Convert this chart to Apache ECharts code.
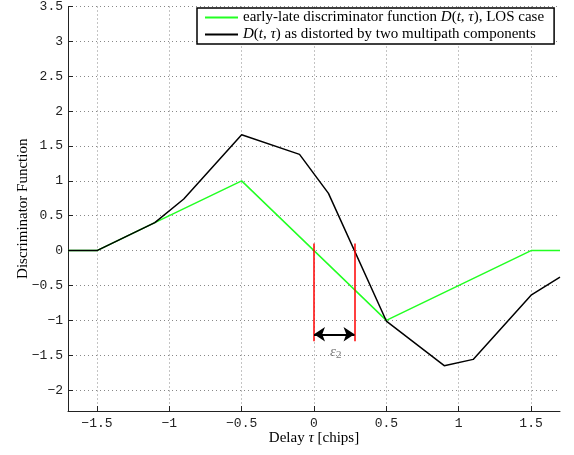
<!DOCTYPE html>
<html>
<head>
<meta charset="utf-8">
<script src="https://cdn.jsdelivr.net/npm/echarts@6/dist/echarts.min.js"></script>
<style>
  html, body { margin: 0; padding: 0; background: #fff; }
  #chart { width: 574px; height: 455px; }
</style>
</head>
<body>
<div id="chart"></div>
<script>
// Early-late discriminator: ideal LOS curve vs. the curve distorted by two multipath components
const losTau = [-1.7, -1.5, -1.1, -0.5, 0.5, 1.5, 1.7];
const losD   = [0, 0, 0.4, 1, -1, 0, 0];

const mpTau = [-1.7, -1.5, -1.1, -0.9, -0.5, -0.1, 0.1, 0.5, 0.9, 1.1, 1.5, 1.7];
const mpD   = [0, 0, 0.4, 0.74, 1.66, 1.38, 0.82, -1.01, -1.65, -1.56, -0.64, -0.38];

// zero crossings of the two curves and the bias between them
const crossTau = [0, 0.28];
const crossTop = 0.1;
const crossBottom = -1.3;
const arrowD = -1.2;
const epsPos = [0.15, -1.45];

const xMin = -1.7, xMax = 1.7, yMin = -2.3, yMax = 3.5, step = 0.5;

const nameLos = 'early-late discriminator function D(t,τ), LOS case';
const nameMp = 'D(t,τ) as distorted by two multipath components';

const pair = (xs, ys) => xs.map((x, i) => [x, ys[i]]);
const fmtNum = v => {
  const s = Number(v.toFixed(2)).toString();
  return s.replace('-', '\u2212');
};

const serif = '"Liberation Serif", "DejaVu Serif", serif';
const mono = '"Liberation Mono", "DejaVu Sans Mono", monospace';
const italicRich = { i: { fontFamily: serif, fontStyle: 'italic', fontSize: 15, color: '#000' } };

const chart = echarts.init(document.getElementById('chart'), null, { renderer: 'canvas' });

chart.setOption({
  animation: false,
  backgroundColor: '#fff',
  grid: { left: 68, right: 14, top: 3, bottom: 44, containLabel: false },
  legend: {
    data: [nameLos, nameMp],
    orient: 'vertical',
    left: 197,
    top: 8,
    padding: [2, 10, 2, 7],
    itemGap: 2,
    itemWidth: 33,
    itemHeight: 1,
    borderColor: '#000',
    borderWidth: 1.5,
    borderRadius: 0,
    backgroundColor: '#fff',
    formatter: n => n === nameLos
      ? 'early-late discriminator function {i|D}({i|t}, {i|τ}), LOS case'
      : '{i|D}({i|t}, {i|τ}) as distorted by two multipath components',
    textStyle: { fontFamily: serif, fontSize: 15, color: '#000', rich: italicRich }
  },
  xAxis: {
    type: 'value',
    min: xMin, max: xMax,
    minInterval: step, maxInterval: step,
    name: 'Delay {i|τ} [chips]',
    nameLocation: 'middle',
    nameGap: 20,
    nameMoveOverlap: false,
    nameTextStyle: { fontFamily: serif, fontSize: 15, color: '#000', rich: italicRich },
    axisLine: { show: true, onZero: false, lineStyle: { color: '#222', width: 1 } },
    axisTick: { show: true, inside: true, length: 5, lineStyle: { color: '#222' } },
    axisLabel: {
      showMinLabel: false, showMaxLabel: false,
      margin: 6,
      fontFamily: mono, fontSize: 13, color: '#222',
      formatter: fmtNum
    },
    splitLine: {
      show: true, showMinLine: false, showMaxLine: false,
      lineStyle: { color: '#888', type: [1, 3], width: 1 }
    }
  },
  yAxis: {
    type: 'value',
    min: yMin, max: yMax,
    minInterval: step, maxInterval: step,
    name: 'Discriminator Function',
    nameLocation: 'middle',
    nameGap: 37,
    nameMoveOverlap: false,
    nameTextStyle: { fontFamily: serif, fontSize: 15, color: '#000' },
    axisLine: { show: true, onZero: false, lineStyle: { color: '#222', width: 1 } },
    axisTick: { show: true, inside: true, length: 5, lineStyle: { color: '#222' } },
    axisLabel: {
      showMinLabel: false,
      margin: 5,
      fontFamily: mono, fontSize: 13, color: '#222',
      formatter: fmtNum
    },
    splitLine: {
      show: true, showMinLine: false,
      lineStyle: { color: '#888', type: [1, 3], width: 1 }
    }
  },
  series: [
    {
      name: nameLos,
      type: 'line',
      data: pair(losTau, losD),
      symbol: 'none',
      lineStyle: { color: '#22ff22', width: 1.5 },
      itemStyle: { color: '#22ff22' },
      z: 3
    },
    {
      name: nameMp,
      type: 'line',
      data: pair(mpTau, mpD),
      symbol: 'none',
      lineStyle: { color: '#000', width: 1.5 },
      itemStyle: { color: '#000' },
      z: 4
    },
    {
      type: 'lines',
      coordinateSystem: 'cartesian2d',
      data: crossTau.map(t => ({ coords: [[t, crossTop], [t, crossBottom]] })),
      lineStyle: { color: '#ff0000', width: 1.5, opacity: 1 },
      symbol: 'none',
      z: 5
    },
    {
      type: 'lines',
      coordinateSystem: 'cartesian2d',
      data: [{ coords: [[crossTau[0], arrowD], [crossTau[1], arrowD]] }],
      lineStyle: { color: '#000', width: 2, opacity: 1 },
      symbol: ['arrow', 'arrow'],
      symbolSize: 11,
      z: 6
    },
    {
      type: 'scatter',
      data: [epsPos],
      symbolSize: 0,
      silent: true,
      label: {
        show: true,
        position: 'inside',
        formatter: '{e|ε}{s|2}',
        rich: {
          e: { fontFamily: serif, fontStyle: 'italic', fontSize: 15, color: '#555' },
          s: { fontFamily: serif, fontSize: 11, color: '#555', verticalAlign: 'bottom', padding: [6, 0, 0, 0] }
        }
      },
      z: 6
    }
  ]
});
</script>
</body>
</html>
